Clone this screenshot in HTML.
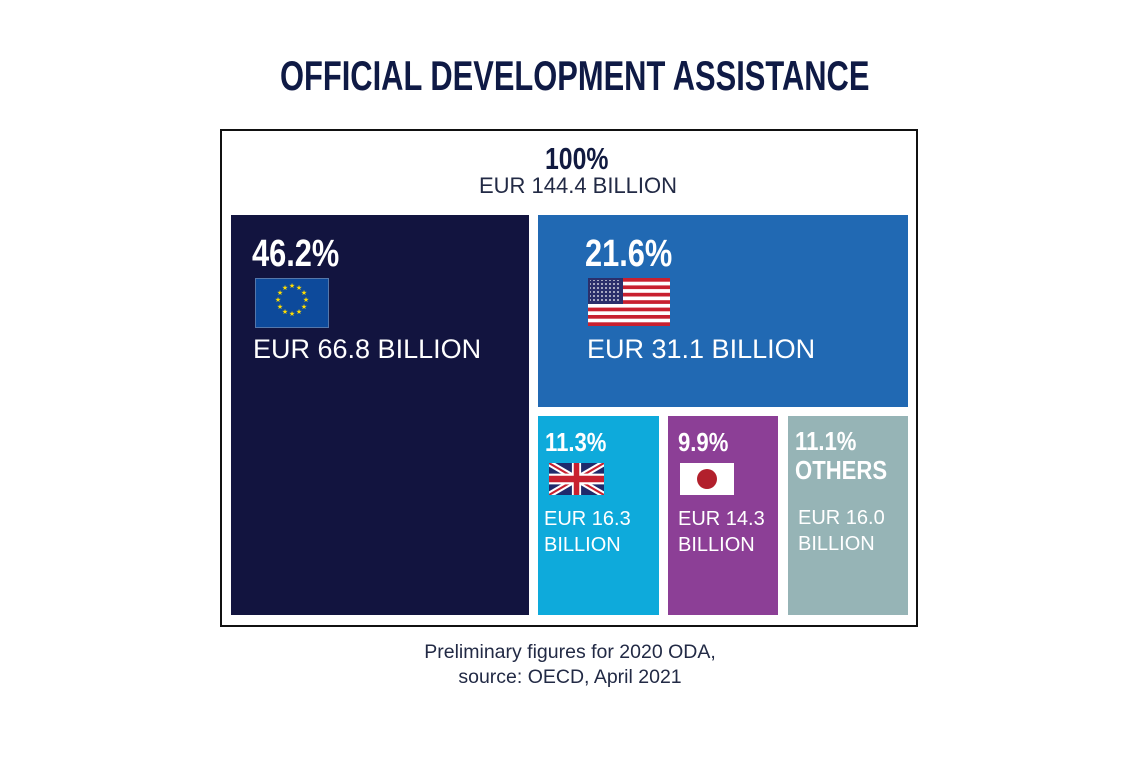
<!DOCTYPE html>
<html><head><meta charset="utf-8"><style>
body{margin:0;width:1140px;height:760px;background:#fff;position:relative;overflow:hidden;font-family:"Liberation Sans",sans-serif}
.a{position:absolute}
.cond{font-weight:bold;transform-origin:0 0;white-space:nowrap}
.w{color:#fff}
</style></head><body>
<div class="a cond" style="left:280px;top:52px;font-size:42px;color:#0f1a45;transform:scaleX(0.735)">OFFICIAL DEVELOPMENT ASSISTANCE</div>
<div class="a" style="left:220px;top:129px;width:694px;height:494px;border:2px solid #111"></div>
<div class="a cond" style="left:545px;top:141px;font-size:31px;color:#111a40;transform:scaleX(0.8)">100%</div>
<div class="a" style="left:0;width:1156px;top:173px;text-align:center;font-size:22px;color:#222a45">EUR 144.4 BILLION</div>

<div class="a" style="left:231px;top:215px;width:298px;height:400px;background:#12143f"></div>
<div class="a cond w" style="left:252px;top:233px;font-size:38px;transform:scaleX(0.81)">46.2%</div>
<div class="a" style="left:255px;top:278px;width:72px;height:48px;background:#0d4a9b;border:1px solid #5577aa"></div>
<svg class="a" style="left:255px;top:278px" width="74" height="50"><g fill="#ffdd00" font-size="7" text-anchor="middle">
<text x="37" y="10">★</text><text x="44" y="12">★</text><text x="49" y="17">★</text><text x="51" y="24">★</text><text x="49" y="31">★</text><text x="44" y="36">★</text><text x="37" y="38">★</text><text x="30" y="36">★</text><text x="25" y="31">★</text><text x="23" y="24">★</text><text x="25" y="17">★</text><text x="30" y="12">★</text></g></svg>
<div class="a w" style="left:253px;top:334px;font-size:27px">EUR 66.8 BILLION</div>

<div class="a" style="left:538px;top:215px;width:370px;height:192px;background:#2169b3"></div>
<div class="a cond w" style="left:585px;top:233px;font-size:38px;transform:scaleX(0.81)">21.6%</div>
<svg class="a" style="left:588px;top:278px" width="82" height="48">
<rect width="82" height="48" fill="#fff"/>
<g fill="#c8202f"><rect y="0" width="82" height="3.7"/><rect y="7.4" width="82" height="3.7"/><rect y="14.8" width="82" height="3.7"/><rect y="22.2" width="82" height="3.7"/><rect y="29.6" width="82" height="3.7"/><rect y="37" width="82" height="3.7"/><rect y="44.3" width="82" height="3.7"/></g>
<rect width="35" height="26" fill="#2b2f6b"/>
<rect x="2" y="2" width="31" height="22" fill="url(#p)"/>
<defs><pattern id="p" width="4" height="4" patternUnits="userSpaceOnUse"><circle cx="2" cy="2" r="0.9" fill="#fff"/></pattern></defs>
</svg>
<div class="a w" style="left:587px;top:334px;font-size:27px">EUR 31.1 BILLION</div>

<div class="a" style="left:538px;top:416px;width:121px;height:199px;background:#0eaadb"></div>
<div class="a cond w" style="left:545px;top:427px;font-size:26px;transform:scaleX(0.85)">11.3%</div>
<svg class="a" style="left:549px;top:463px" width="55" height="32" viewBox="0 0 60 30" preserveAspectRatio="none">
<rect width="60" height="30" fill="#1f2a6b"/>
<path d="M0,0 L60,30 M60,0 L0,30" stroke="#fff" stroke-width="6"/>
<path d="M0,0 L60,30 M60,0 L0,30" stroke="#c8202f" stroke-width="2"/>
<path d="M30,0 V30 M0,15 H60" stroke="#fff" stroke-width="10"/>
<path d="M30,0 V30 M0,15 H60" stroke="#c8202f" stroke-width="6"/></svg>
<div class="a w" style="left:544px;top:506px;font-size:20px;line-height:26px">EUR 16.3<br>BILLION</div>

<div class="a" style="left:668px;top:416px;width:110px;height:199px;background:#8c3f96"></div>
<div class="a cond w" style="left:678px;top:427px;font-size:26px;transform:scaleX(0.85)">9.9%</div>
<div class="a" style="left:680px;top:463px;width:54px;height:32px;background:#fff"></div>
<div class="a" style="left:697px;top:469px;width:20px;height:20px;border-radius:50%;background:#b2202c"></div>
<div class="a w" style="left:678px;top:506px;font-size:20px;line-height:26px">EUR 14.3<br>BILLION</div>

<div class="a" style="left:788px;top:416px;width:120px;height:199px;background:#96b4b6"></div>
<div class="a cond w" style="left:795px;top:427px;font-size:26px;line-height:29px;transform:scaleX(0.85)">11.1%<br>OTHERS</div>
<div class="a w" style="left:798px;top:505px;font-size:20px;line-height:26px">EUR 16.0<br>BILLION</div>

<div class="a" style="left:0;width:1140px;top:640px;text-align:center;font-size:19.5px;line-height:25px;color:#222a45">Preliminary figures for 2020 ODA,<br>source: OECD, April 2021</div>
</body></html>
